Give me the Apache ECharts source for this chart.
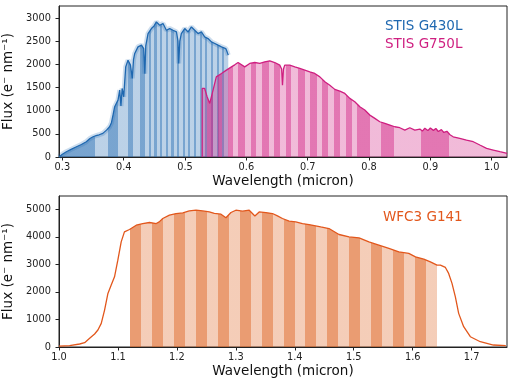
<!DOCTYPE html>
<html>
<head>
<meta charset="utf-8">
<script src="https://cdn.jsdelivr.net/npm/echarts@6/dist/echarts.min.js"></script>
<style>
  html, body { margin: 0; padding: 0; background: #fff; }
  #chart { width: 515px; height: 380px; }
</style>
</head>
<body>
<div id="chart"></div>
<script>
// STIS G430L spectrum (micron, e- nm-1)
const g430Wave = [0.2945, 0.300, 0.3065, 0.315, 0.323, 0.331, 0.339, 0.345, 0.350, 0.355, 0.360, 0.366, 0.372, 0.377, 0.380, 0.3825, 0.3853, 0.388, 0.3907, 0.3935, 0.3955, 0.3975, 0.400, 0.4033, 0.407, 0.411, 0.414, 0.416, 0.418, 0.4233, 0.426, 0.429, 0.4326, 0.4345, 0.436, 0.4397, 0.4452, 0.4495, 0.4533, 0.4587, 0.4641, 0.4696, 0.475, 0.4804, 0.486, 0.4885, 0.4897, 0.4915, 0.494, 0.4995, 0.505, 0.5104, 0.5158, 0.5212, 0.5267, 0.532, 0.5375, 0.543, 0.5485, 0.5538, 0.5594, 0.5664, 0.5686, 0.5705];
const g430Flux = [0, 60, 114, 170, 222, 270, 330, 400, 437, 460, 480, 510, 580, 653, 740, 900, 1085, 1050, 1228, 1444, 1100, 1480, 1300, 1946, 2090, 1983, 1696, 2100, 2235, 2378, 2340, 2414, 2342, 1800, 2400, 2665, 2773, 2830, 2916, 2845, 2881, 2737, 2773, 2737, 2700, 2500, 2019, 2500, 2665, 2773, 2700, 2808, 2737, 2665, 2700, 2593, 2557, 2485, 2450, 2414, 2378, 2342, 2270, 2200];

// STIS G750L spectrum
const g750Wave = [0.528, 0.528, 0.532, 0.536, 0.5403, 0.543, 0.5457, 0.551, 0.5594, 0.5675, 0.5757, 0.581, 0.5865, 0.5893, 0.5974, 0.6055, 0.6137, 0.6219, 0.630, 0.6382, 0.6463, 0.6545, 0.6575, 0.6589, 0.6605, 0.6626, 0.6708, 0.679, 0.6871, 0.6953, 0.7034, 0.7116, 0.7198, 0.728, 0.7361, 0.7442, 0.7524, 0.7605, 0.7687, 0.7768, 0.785, 0.7931, 0.8013, 0.8095, 0.8176, 0.8258, 0.834, 0.842, 0.8502, 0.8584, 0.8665, 0.8747, 0.8829, 0.887, 0.891, 0.896, 0.900, 0.905, 0.909, 0.913, 0.918, 0.922, 0.927, 0.932, 0.9372, 0.948, 0.959, 0.970, 0.9807, 0.9917, 1.0025, 1.0134, 1.0253];
const g750Flux = [0, 1480, 1480, 1300, 1157, 1190, 1444, 1730, 1803, 1875, 1946, 1990, 2040, 1998, 1946, 2019, 2040, 2019, 2054, 2076, 2040, 1983, 1900, 1552, 1900, 1983, 1983, 1946, 1911, 1875, 1838, 1803, 1730, 1623, 1550, 1460, 1422, 1372, 1265, 1192, 1084, 1013, 905, 834, 761, 726, 690, 653, 632, 582, 632, 582, 603, 560, 620, 570, 625, 575, 615, 550, 590, 530, 555, 480, 437, 403, 366, 330, 259, 187, 151, 114, 80];

// WFC3 G141 spectrum
const g141Wave = [1.000, 1.018, 1.035, 1.0435, 1.052, 1.0604, 1.066, 1.0717, 1.0773, 1.083, 1.0886, 1.0942, 1.0998, 1.1055, 1.111, 1.1196, 1.131, 1.142, 1.1535, 1.165, 1.170, 1.176, 1.1873, 1.1986, 1.210, 1.221, 1.2325, 1.2437, 1.255, 1.2635, 1.2748, 1.2832, 1.2917, 1.300, 1.3113, 1.3227, 1.3323, 1.3396, 1.351, 1.3621, 1.3706, 1.379, 1.3904, 1.4017, 1.413, 1.4242, 1.444, 1.458, 1.475, 1.492, 1.509, 1.5257, 1.5426, 1.5596, 1.5765, 1.5934, 1.6047, 1.6188, 1.630, 1.6413, 1.647, 1.6555, 1.661, 1.6667, 1.6724, 1.678, 1.6865, 1.6978, 1.7147, 1.737, 1.758];
const g141Flux = [30, 47, 109, 156, 315, 471, 616, 857, 1340, 1945, 2246, 2548, 3152, 3815, 4178, 4264, 4420, 4481, 4518, 4481, 4540, 4663, 4783, 4844, 4866, 4938, 4964, 4938, 4902, 4850, 4819, 4690, 4880, 4964, 4928, 4964, 4757, 4902, 4880, 4844, 4757, 4663, 4565, 4540, 4481, 4445, 4359, 4300, 4083, 3996, 3960, 3815, 3696, 3576, 3453, 3395, 3272, 3188, 3090, 2971, 2971, 2887, 2670, 2308, 1822, 1221, 736, 373, 192, 72, 47];

// spectral bin edges (alternating dark / light shading)
const g430Edges = [0.2945, 0.354, 0.374, 0.391, 0.407, 0.415, 0.427, 0.434, 0.441, 0.4445, 0.4502, 0.4537, 0.4594, 0.4629, 0.4686, 0.4721, 0.4778, 0.4813, 0.4870, 0.4905, 0.4962, 0.4997, 0.5054, 0.5089, 0.5146, 0.5181, 0.5238, 0.5273, 0.5330, 0.5365, 0.5422, 0.5457, 0.5514, 0.5549, 0.5606, 0.5641, 0.5710];
const g750Edges = [0.528, 0.5365, 0.545, 0.553, 0.561, 0.570, 0.578, 0.5865, 0.5974, 0.6072, 0.6165, 0.6263, 0.637, 0.6452, 0.6545, 0.6643, 0.6736, 0.6843, 0.6953, 0.7034, 0.7144, 0.7235, 0.7333, 0.7426, 0.7524, 0.762, 0.772, 0.781, 0.801, 0.820, 0.840, 0.885, 0.931, 1.026];
const g141Edges = [1.1210, 1.1396, 1.1581, 1.1767, 1.1953, 1.2139, 1.2324, 1.2510, 1.2696, 1.2881, 1.3067, 1.3253, 1.3439, 1.3624, 1.3810, 1.3996, 1.4181, 1.4367, 1.4553, 1.4739, 1.4924, 1.5110, 1.5296, 1.5481, 1.5667, 1.5853, 1.6039, 1.6224, 1.6410];

// ticks
const topXTicks = [0.3, 0.4, 0.5, 0.6, 0.7, 0.8, 0.9, 1.0];
const topYTicks = [0, 500, 1000, 1500, 2000, 2500, 3000];
const botXTicks = [1.0, 1.1, 1.2, 1.3, 1.4, 1.5, 1.6, 1.7];
const botYTicks = [0, 1000, 2000, 3000, 4000, 5000];

const blue = "#1f68b0";
const pink = "#cf1f80";
const orange = "#e2571c";
const font = "DejaVu Sans";
const ink = "#222";

function pairs(w, f) {
  return w.map((x, i) => [x, f[i]]);
}

function binPieces(edges, rgb, firstDark) {
  const pieces = [];
  for (let i = 0; i < edges.length - 1; i++) {
    const dark = (i % 2 === 0) === firstDark;
    pieces.push({
      gte: edges[i],
      lt: edges[i + 1],
      color: "rgba(" + rgb + "," + (dark ? 0.6 : 0.3) + ")",
    });
  }
  return pieces;
}

function xAxisFor(grid, min, max, ticks) {
  return {
    type: "value",
    gridIndex: grid,
    min: min,
    max: max,
    name: "Wavelength (micron)",
    nameLocation: "middle",
    nameGap: 17,
    nameTextStyle: { fontFamily: font, fontSize: 13.5, color: "#111" },
    axisLine: { show: true, onZero: false, lineStyle: { color: ink } },
    axisTick: { customValues: ticks, length: 3.5, lineStyle: { color: ink } },
    axisLabel: {
      customValues: ticks,
      formatter: (v) => v.toFixed(1),
      fontFamily: font,
      fontSize: 9.8,
      color: ink,
      margin: 5,
    },
    splitLine: { show: false },
  };
}

function yAxisFor(grid, max, ticks) {
  return {
    type: "value",
    gridIndex: grid,
    min: 0,
    max: max,
    name: "Flux (e⁻ nm⁻¹)",
    nameLocation: "middle",
    nameGap: 40,
    nameTextStyle: { fontFamily: font, fontSize: 13.5, color: "#111" },
    axisLine: { show: true, lineStyle: { color: ink } },
    axisTick: { customValues: ticks, length: 3.5, lineStyle: { color: ink } },
    axisLabel: {
      customValues: ticks,
      formatter: (v) => String(v),
      fontFamily: font,
      fontSize: 9.8,
      color: ink,
      margin: 8,
    },
    splitLine: { show: false },
  };
}

function areaSeries(x, y, data) {
  return {
    type: "line",
    xAxisIndex: x,
    yAxisIndex: y,
    data: data,
    showSymbol: false,
    lineStyle: { width: 0, opacity: 0 },
    areaStyle: { opacity: 1 },
    silent: true,
  };
}

function lineSeries(x, y, data, color, width) {
  return {
    type: "line",
    xAxisIndex: x,
    yAxisIndex: y,
    data: data,
    showSymbol: false,
    lineStyle: { width: width, color: color },
    itemStyle: { color: color },
    silent: true,
  };
}

const chart = echarts.init(document.getElementById("chart"));

chart.setOption({
  animation: false,
  textStyle: { fontFamily: font },
  grid: [
    { left: 59, top: 6, width: 448, height: 151, show: true, borderColor: ink, borderWidth: 1, containLabel: false, outerBoundsMode: "none" },
    { left: 59, top: 196, width: 448, height: 151, show: true, borderColor: ink, borderWidth: 1, containLabel: false, outerBoundsMode: "none" },
  ],
  xAxis: [
    xAxisFor(0, 0.2945, 1.025, topXTicks),
    xAxisFor(1, 1.0, 1.76, botXTicks),
  ],
  yAxis: [yAxisFor(0, 3260, topYTicks), yAxisFor(1, 5480, botYTicks)],
  visualMap: [
    { type: "piecewise", show: false, dimension: 0, seriesIndex: 0, pieces: binPieces(g430Edges, "31,104,176", true), outOfRange: { color: "rgba(0,0,0,0)" } },
    { type: "piecewise", show: false, dimension: 0, seriesIndex: 3, pieces: binPieces(g750Edges, "208,28,128", false), outOfRange: { color: "rgba(0,0,0,0)" } },
    { type: "piecewise", show: false, dimension: 0, seriesIndex: 5, pieces: binPieces(g141Edges, "220,90,20", true), outOfRange: { color: "rgba(0,0,0,0)" } },
  ],
  series: [
    areaSeries(0, 0, pairs(g430Wave, g430Flux)),
    lineSeries(0, 0, pairs(g430Wave, g430Flux), "rgba(31,104,176,0.22)", 5),
    lineSeries(0, 0, pairs(g430Wave, g430Flux), blue, 1.3),
    areaSeries(0, 0, pairs(g750Wave, g750Flux)),
    lineSeries(0, 0, pairs(g750Wave, g750Flux), pink, 1.3),
    areaSeries(1, 1, pairs(g141Wave, g141Flux)),
    lineSeries(1, 1, pairs(g141Wave, g141Flux), orange, 1.3),
  ],
  graphic: [
    { type: "text", left: 385, top: 19, style: { text: "STIS G430L", fill: blue, font: "13.5px DejaVu Sans" } },
    { type: "text", left: 385, top: 37, style: { text: "STIS G750L", fill: pink, font: "13.5px DejaVu Sans" } },
    { type: "text", left: 383, top: 210, style: { text: "WFC3 G141", fill: orange, font: "13.5px DejaVu Sans" } },
  ],
});
</script>
</body>
</html>
